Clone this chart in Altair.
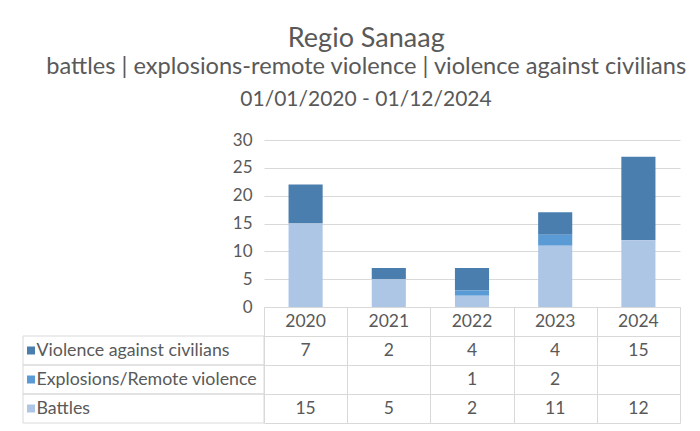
import altair as alt
import pandas as pd

years = ["2020", "2021", "2022", "2023", "2024"]
series = ["Violence against civilians", "Explosions/Remote violence", "Battles"]
violence = [7, 2, 4, 4, 15]
explosions = [None, None, 1, 2, None]
battles = [15, 5, 2, 11, 12]
colors = ["#4A7EAF", "#5B9BD5", "#ADC6E6"]
y_ticks = [0, 5, 10, 15, 20, 25, 30]
title_text = "Regio Sanaag"
subtitle_line = "battles | explosions-remote violence | violence against civilians"
period_line = "01/01/2020 - 01/12/2024"

TXT = "#595959"
GRID = "#d9d9d9"
FONT = "Lato"

rows = []
for s, vals in zip(series, [violence, explosions, battles]):
    for y, v in zip(years, vals):
        rows.append({
            "year": y,
            "series": s,
            "value": v,
            "label": "" if v is None else str(v),
            "stackorder": len(series) - 1 - series.index(s),
        })
df = pd.DataFrame(rows)

header = pd.DataFrame({"year": years, "row": [""] * len(years), "label": years})
body = df.rename(columns={"series": "row"})[["year", "row", "label"]]
table_df = pd.concat([header, body], ignore_index=True)
row_df = pd.DataFrame({"row": series})

color_scale = alt.Scale(domain=series, range=colors)

bars = alt.Chart(df).mark_bar().encode(
    x=alt.X("year:N", scale=alt.Scale(domain=years, paddingInner=0.59, paddingOuter=0.295), axis=None),
    y=alt.Y("value:Q", stack="zero", scale=alt.Scale(domain=[0, 30], nice=False),
            axis=alt.Axis(values=y_ticks, title=None, domain=False, ticks=False, grid=True,
                          gridColor=GRID, labelFontSize=17, labelColor=TXT, labelPadding=12)),
    color=alt.Color("series:N", scale=color_scale, legend=None),
    order=alt.Order("stackorder:Q"),
).properties(
    width=416, height=167,
    title=alt.TitleParams(text=period_line, fontSize=21, color=TXT, font=FONT, fontWeight="normal",
                          anchor="middle", frame="group", dx=-106, offset=21),
)

tx = alt.X("year:N", scale=alt.Scale(domain=years, paddingInner=0, paddingOuter=0),
           axis=alt.Axis(title=None, labels=False, ticks=False, domain=False, grid=True,
                         gridColor=GRID, tickBand="extent"))
ty_scale = alt.Scale(domain=[""] + series, paddingInner=0, paddingOuter=0)
ty = alt.Y("row:N", scale=ty_scale,
           axis=alt.Axis(title=None, ticks=False, domain=False, grid=True, gridColor=GRID,
                         tickBand="extent", labelAlign="left", labelPadding=228, labelLimit=0,
                         labelFontSize=17.8, labelColor=TXT))

cells = alt.Chart(table_df).mark_text(fontSize=17.5, color=TXT, font=FONT).encode(
    x=tx, y=ty, text="label:N"
)
frames = alt.Chart(row_df).mark_rect(fill="white", fillOpacity=0, stroke=GRID, strokeWidth=1).encode(
    x=alt.value(-241), x2=alt.value(0), y=alt.Y("row:N", scale=ty_scale)
)
keys = alt.Chart(row_df).mark_square(size=64, opacity=1).encode(
    x=alt.value(-233), y=alt.Y("row:N", scale=ty_scale),
    color=alt.Color("row:N", scale=color_scale, legend=None),
)
table = alt.layer(frames, cells, keys).properties(width=416, height=116)

chart = alt.vconcat(bars, table, spacing=0, bounds="flush").properties(
    title=alt.TitleParams(
        text=title_text, subtitle=subtitle_line, anchor="middle", fontSize=27,
        subtitleFontSize=23.6, color=TXT, subtitleColor=TXT, fontWeight="normal",
        font=FONT, subtitleFont=FONT, subtitlePadding=2, dx=15, offset=9,
    ),
    padding={"left": 14, "top": 17, "right": 0, "bottom": 0},
).configure(font=FONT).configure_view(strokeWidth=0)

chart.save("out.html", embed_options={"renderer": "svg", "actions": False})
